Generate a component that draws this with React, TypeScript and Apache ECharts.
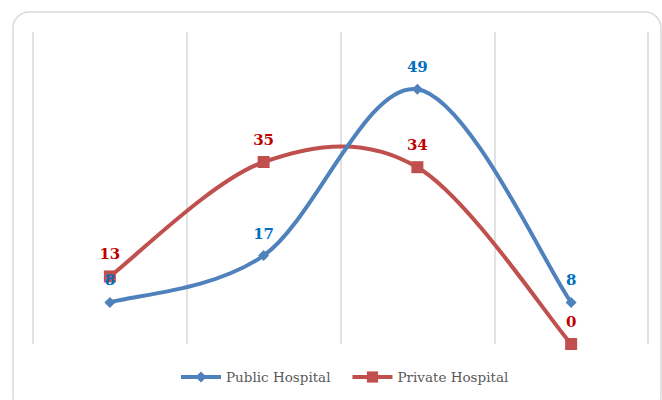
import React, { useEffect, useRef } from "react";
import * as echarts from "echarts";

const categories = ["A", "B", "C", "D"];
const publicValues = [8, 17, 49, 8];
const privateValues = [13, 35, 34, 0];
const seriesNames = ["Public Hospital", "Private Hospital"];

function curveSeries(id: string, values: number[], color: string, z: number) {
  return {
    id,
    type: "custom",
    data: values.map((v, i) => [i, v]),
    z,
    silent: true,
    renderItem: (params: any, api: any) => {
      const i = params.dataIndex;
      const n = values.length;
      if (i >= n - 1) return null;
      const pt = (j: number) => {
        const k = Math.max(0, Math.min(n - 1, j));
        return api.coord([k, values[k]]);
      };
      const p0 = pt(i - 1);
      const p1 = pt(i);
      const p2 = pt(i + 1);
      const p3 = pt(i + 2);
      return {
        type: "bezierCurve",
        shape: {
          x1: p1[0],
          y1: p1[1],
          x2: p2[0],
          y2: p2[1],
          cpx1: p1[0] + (p2[0] - p0[0]) / 6,
          cpy1: p1[1] + (p2[1] - p0[1]) / 6,
          cpx2: p2[0] - (p3[0] - p1[0]) / 6,
          cpy2: p2[1] - (p3[1] - p1[1]) / 6,
        },
        style: { stroke: color, lineWidth: 4, fill: null, lineCap: "round" },
      };
    },
  };
}

export default function App() {
  const ref = useRef<HTMLDivElement>(null);
  useEffect(() => {
    const chart = echarts.init(ref.current!, null, { renderer: "svg" });
    const labelFont = { fontFamily: "DejaVu Serif", fontWeight: "bold", fontSize: 15 };
    const blue = "#4f81bd";
    const red = "#c0504d";
    chart.setOption({
      animation: false,
      graphic: [
        {
          type: "rect",
          shape: { x: 13, y: 12, width: 648, height: 400, r: 16 },
          style: { fill: "none", stroke: "#d9d9d9", lineWidth: 1.5 },
          silent: true,
        },
      ],
      grid: { left: 33, right: 14, top: 32, bottom: 56 },
      xAxis: {
        type: "category",
        data: categories,
        boundaryGap: true,
        axisLine: { show: false },
        axisTick: { show: false },
        axisLabel: { show: false },
        splitLine: { show: true, lineStyle: { color: "#d9d9d9", width: 1.5 } },
      },
      yAxis: {
        type: "value",
        min: 0,
        max: 60,
        interval: 10,
        show: false,
        splitLine: { show: false },
      },
      legend: {
        top: 370,
        left: 179,
        padding: 0,
        itemWidth: 40,
        itemHeight: 14,
        itemGap: 20,
        textStyle: { fontFamily: "DejaVu Serif", fontSize: 13.5, color: "#595959" },
        data: [
          { name: seriesNames[0], lineStyle: { color: blue, width: 4, opacity: 1 } },
          { name: seriesNames[1], lineStyle: { color: red, width: 4, opacity: 1 } },
        ],
      },
      series: [
        curveSeries("curvePrivate", privateValues, red, 2),
        curveSeries("curvePublic", publicValues, blue, 3),
        {
          name: seriesNames[1],
          type: "line",
          data: privateValues,
          symbol: "rect",
          symbolSize: 12,
          lineStyle: { color: red, width: 4, opacity: 0 },
          itemStyle: { color: red },
          label: { show: true, position: "top", distance: 9, color: "#c00000", ...labelFont },
          z: 4,
        },
        {
          name: seriesNames[0],
          type: "line",
          data: publicValues,
          symbol: "diamond",
          symbolSize: 11,
          lineStyle: { color: blue, width: 4, opacity: 0 },
          itemStyle: { color: blue },
          label: { show: true, position: "top", distance: 9, color: "#0070c0", ...labelFont },
          z: 5,
        },
      ],
    });
    return () => chart.dispose();
  }, []);
  return (
    <div
      ref={ref}
      style={{ position: "absolute", left: 0, top: 0, width: 662, height: 400 }}
    />
  );
}
